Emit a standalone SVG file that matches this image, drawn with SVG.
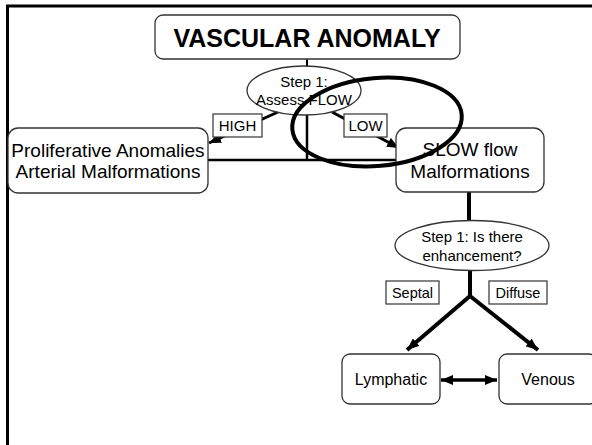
<svg xmlns="http://www.w3.org/2000/svg" width="592" height="445" viewBox="0 0 592 445">
<style>
  .box{fill:#fff;stroke:#333;stroke-width:1.3}
  .lbl{fill:#fff;stroke:#333;stroke-width:1.2}
  .t{font-family:"Liberation Sans",Arial,sans-serif;fill:#000;text-anchor:middle}
  .c{fill:none;stroke:#000;stroke-linecap:butt}
</style>
<defs>
  <marker id="ah" markerUnits="userSpaceOnUse" markerWidth="12" markerHeight="10" refX="12" refY="5" orient="auto-start-reverse" viewBox="0 0 12 10">
    <path d="M0,0 L12,5 L0,10 z" fill="#000"/>
  </marker>
</defs>
<rect width="592" height="445" fill="#fff"/>
<g id="frame">
  <path d="M7.5,445 V6 H592" fill="none" stroke="#000" stroke-width="3"/>
</g>
<g id="connectors">
  <line class="c" x1="307" y1="59" x2="307" y2="67" stroke-width="2"/>
  <line class="c" x1="307" y1="114" x2="307" y2="160" stroke-width="2.5"/>
  <line class="c" x1="208" y1="160" x2="396" y2="160" stroke-width="2.5"/>
  <line class="c" x1="278" y1="112" x2="209" y2="143" stroke-width="3" marker-end="url(#ah)"/>
  <line class="c" x1="332" y1="112" x2="399" y2="148" stroke-width="3" marker-end="url(#ah)"/>
  <line class="c" x1="469" y1="192" x2="469" y2="221" stroke-width="4"/>
  <line class="c" x1="470" y1="270" x2="470" y2="296" stroke-width="4"/>
  <line class="c" x1="470" y1="296" x2="407" y2="350" stroke-width="4" marker-end="url(#ah)"/>
  <line class="c" x1="470" y1="296" x2="538" y2="350" stroke-width="4" marker-end="url(#ah)"/>
  <line class="c" x1="441" y1="380" x2="497" y2="380" stroke-width="3.5" marker-start="url(#ah)" marker-end="url(#ah)"/>
</g>
<g id="label-high">
  <rect class="lbl" x="213" y="114" width="49" height="23"/>
  <text class="t" x="237.5" y="131" font-size="15">HIGH</text>
</g>
<g id="label-low">
  <rect class="lbl" x="344" y="114" width="43" height="23"/>
  <text class="t" x="365.5" y="131" font-size="15">LOW</text>
</g>
<g id="label-septal">
  <rect class="lbl" x="386" y="281" width="53" height="23"/>
  <text class="t" x="412.5" y="298" font-size="14.5">Septal</text>
</g>
<g id="label-diffuse">
  <rect class="lbl" x="489" y="281" width="58" height="23"/>
  <text class="t" x="518" y="298" font-size="14.5">Diffuse</text>
</g>
<g id="vascular-anomaly">
  <rect class="box" x="155" y="15" width="305" height="44" rx="8"/>
  <text class="t" x="307" y="47" font-size="25" font-weight="bold">VASCULAR ANOMALY</text>
</g>
<g id="step1-flow">
  <ellipse class="box" cx="304" cy="90.5" rx="57" ry="24.5"/>
  <text class="t" x="304" y="87" font-size="15">Step 1:</text>
  <text class="t" x="304" y="105" font-size="15">Assess FLOW</text>
</g>
<g id="proliferative">
  <rect class="box" x="8" y="128" width="200" height="65" rx="10"/>
  <text class="t" x="108" y="157" font-size="19">Proliferative Anomalies</text>
  <text class="t" x="108" y="178" font-size="19">Arterial Malformations</text>
</g>
<g id="slow-flow">
  <rect class="box" x="396" y="128" width="148" height="64" rx="10"/>
  <text class="t" x="470" y="156" font-size="19">SLOW flow</text>
  <text class="t" x="470" y="178" font-size="19">Malformations</text>
</g>
<g id="step1-enhancement">
  <ellipse class="box" cx="472" cy="245.5" rx="77" ry="25"/>
  <text class="t" x="472" y="242" font-size="15">Step 1: Is there</text>
  <text class="t" x="472" y="261" font-size="15">enhancement?</text>
</g>
<g id="lymphatic">
  <rect class="box" x="342" y="354" width="98" height="50" rx="8"/>
  <text class="t" x="391" y="385" font-size="16">Lymphatic</text>
</g>
<g id="venous">
  <rect class="box" x="499" y="354" width="98" height="50" rx="8"/>
  <text class="t" x="548" y="385" font-size="16">Venous</text>
</g>
<g id="highlight">
  <ellipse cx="377" cy="122" rx="85" ry="44" transform="rotate(-5 377 122)" fill="none" stroke="#000" stroke-width="4"/>
</g>
</svg>
